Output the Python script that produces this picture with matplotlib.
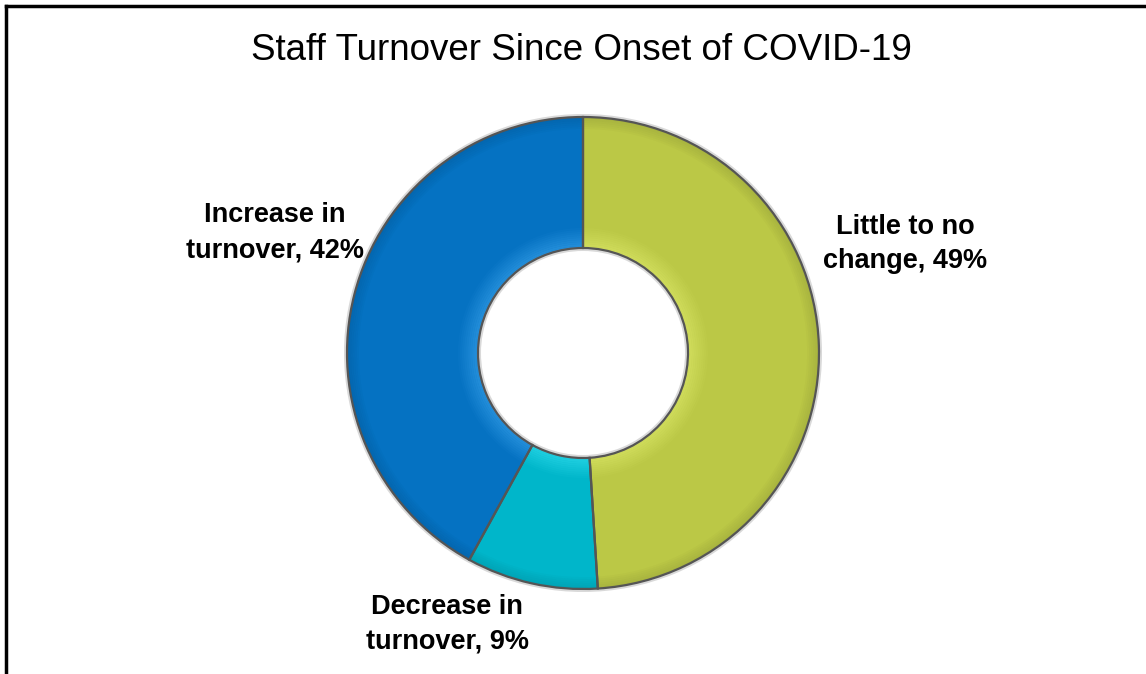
import matplotlib.pyplot as plt
from matplotlib.lines import Line2D

# Survey shares, clockwise from the top
categories = ['Little to no\nchange', 'Decrease in\nturnover', 'Increase in\nturnover']
shares = [49, 9, 42]
colors = ['#BBC846', '#00B6CA', '#0572C2']
light = ['#E2EE6E', '#3AE4F4', '#3FA8F0']

plt.rcParams['font.family'] = ['Liberation Sans', 'DejaVu Sans']

W, H = 1146, 674
fig = plt.figure(figsize=(W / 100, H / 100), dpi=100)

# donut geometry in pixels
cx, cy, R, r = 583, 353, 236, 105
half = 260
ax = fig.add_axes([(cx - half) / W, (H - cy - half) / H, 2 * half / W, 2 * half / H])

# soft shadow ring
ax.pie([1], radius=R + 3, colors=['#d9d9d9'], wedgeprops=dict(width=R - r + 6, linewidth=0))
ax.pie(shares, radius=R, colors=colors, startangle=90, counterclock=False,
       wedgeprops=dict(width=R - r, linewidth=0))

# bevel: faded highlight near the inner edge, slight shade at the outer edge
for i in range(10):
    ax.pie(shares, radius=r + 2 * (i + 1), colors=light, startangle=90, counterclock=False,
           wedgeprops=dict(width=2, linewidth=0, alpha=0.55 * (1 - i / 10)))
for i in range(6):
    ax.pie(shares, radius=R - 2 * i, colors=['black'] * 3, startangle=90, counterclock=False,
           wedgeprops=dict(width=2, linewidth=0, alpha=0.10 * (1 - i / 6)))

ax.pie(shares, radius=R, colors=colors, startangle=90, counterclock=False,
       wedgeprops=dict(width=R - r, edgecolor='#555555', linewidth=1.6, fill=False))

ax.set_xlim(-half, half)
ax.set_ylim(-half, half)
ax.set_aspect('equal')
ax.axis('off')

# labels (pixel offsets from centre)
labels = [f'{c}, {s}%' for c, s in zip(categories, shares)]
label_pos = [(905 - cx, cy - 244), (447 - cx, cy - 624), (275 - cx, cy - 233)]
for text, (x, y) in zip(labels, label_pos):
    ax.text(x, y, text, ha='center', va='center', fontsize=19.5, fontweight='bold',
            linespacing=1.45, clip_on=False)

fig.text(581 / W, 1 - 50 / H, 'Staff Turnover Since Onset of COVID-19',
         ha='center', va='center', fontsize=26.5)

# partial frame: top and left edges only
fig.add_artist(Line2D([6 / W, 1], [1 - 6 / H, 1 - 6 / H], transform=fig.transFigure,
                      color='black', linewidth=2.5))
fig.add_artist(Line2D([6 / W, 6 / W], [0, 1 - 6 / H], transform=fig.transFigure,
                      color='black', linewidth=2.5))

fig.savefig('out.png', dpi=100)
